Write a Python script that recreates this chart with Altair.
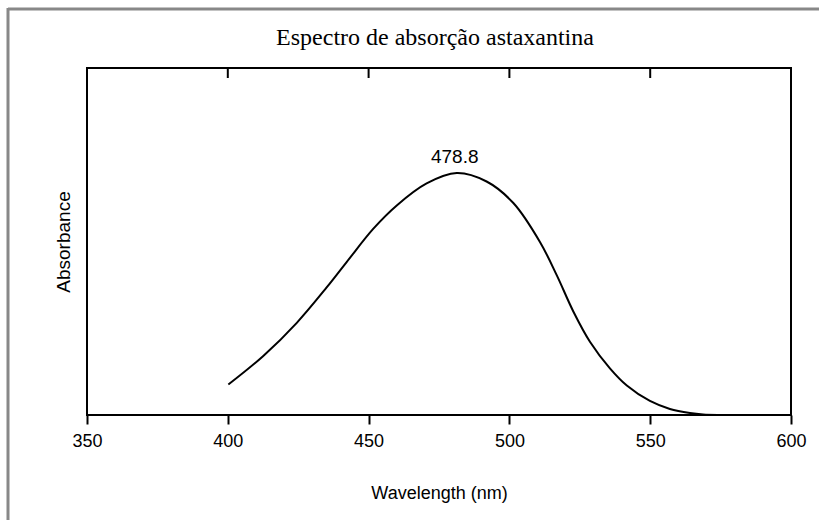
import altair as alt
import pandas as pd

# Spectrum values
wavelength = [400.2, 412.6, 424.5, 435.1, 442.2, 451.7, 460.0, 470.6, 481.3, 491.9,
              501.4, 510.9, 516.8, 522.7, 528.6, 535.7, 541.7, 549.9, 557.0,
              564.1, 568.8, 575.0, 590.0, 600.0]
absorbance = [0.126, 0.244, 0.381, 0.527, 0.632, 0.770, 0.866, 0.957, 1.000, 0.965,
              0.876, 0.714, 0.578, 0.428, 0.303, 0.193, 0.122, 0.058, 0.025,
              0.008, 0.002, 0.000, 0.000, 0.000]
x_ticks = [350, 400, 450, 500, 550, 600]
top_ticks = [400, 450, 500, 550]
peak_wl = [481.3]
peak_abs = [1.0]
peak_label = ["478.8"]
title_text = ["Espectro de absorção astaxantina"]

spec = pd.DataFrame({"wl": wavelength, "abs": absorbance})
peak = pd.DataFrame({"wl": peak_wl, "abs": peak_abs, "label": peak_label})
tops = pd.DataFrame({"wl": top_ticks})
one = pd.DataFrame({"k": [0]})
ttl = pd.DataFrame({"t": title_text})

xscale = alt.Scale(domain=[350, 600], nice=False, zero=False)
yscale = alt.Scale(domain=[0, 1.434], nice=False, zero=True)

line = alt.Chart(spec).mark_line(color="black", strokeWidth=2, interpolate="catmull-rom").encode(
    x=alt.X("wl:Q", scale=xscale,
            axis=alt.Axis(title="Wavelength (nm)", values=x_ticks, format="d",
                          domain=False, grid=False, ticks=True, tickSize=9,
                          tickColor="black", tickWidth=2, labelPadding=8,
                          labelFont="Liberation Sans", labelFontSize=18,
                          labelColor="black", titleFont="Liberation Sans",
                          titleFontSize=18, titleFontWeight="normal",
                          titleColor="black", titlePadding=34,
                          labelFlush=False)),
    y=alt.Y("abs:Q", scale=yscale,
            axis=alt.Axis(title="Absorbance", labels=False, ticks=False, domain=False,
                          grid=False, titleFont="Liberation Sans", titleFontSize=19,
                          titleFontWeight="normal", titleColor="black",
                          titlePadding=14)),
)

label = alt.Chart(peak).mark_text(font="Liberation Sans", fontSize=19, color="black",
                                  dy=-16, dx=-2).encode(
    x=alt.X("wl:Q", scale=xscale),
    y=alt.Y("abs:Q", scale=yscale),
    text="label:N",
)

top_rules = alt.Chart(tops).mark_rule(color="black", strokeWidth=2).encode(
    x=alt.X("wl:Q", scale=xscale),
    y=alt.value(0),
    y2=alt.value(10),
)

title_mark = alt.Chart(ttl).mark_text(font="Liberation Serif", fontSize=24, color="black",
                                      align="center", baseline="middle").encode(
    x=alt.value(348), y=alt.value(-30), text="t:N"
)

frame_top = alt.Chart(one).mark_rule(color="#888888", strokeWidth=3).encode(
    x=alt.value(-79), x2=alt.value(732), y=alt.value(-59)
)
frame_left = alt.Chart(one).mark_rule(color="#888888", strokeWidth=3).encode(
    x=alt.value(-79), y=alt.value(-60), y2=alt.value(452)
)

chart = alt.layer(frame_top, frame_left, title_mark, line, label, top_rules).properties(
    width=704,
    height=347,
    autosize=alt.AutoSizeParams(type="none"),
    padding={"left": 87, "top": 68, "right": 28, "bottom": 105},
    background="white",
).configure_view(stroke="black", strokeWidth=2)

chart.save("out.html", embed_options={"renderer": "svg", "actions": False})
